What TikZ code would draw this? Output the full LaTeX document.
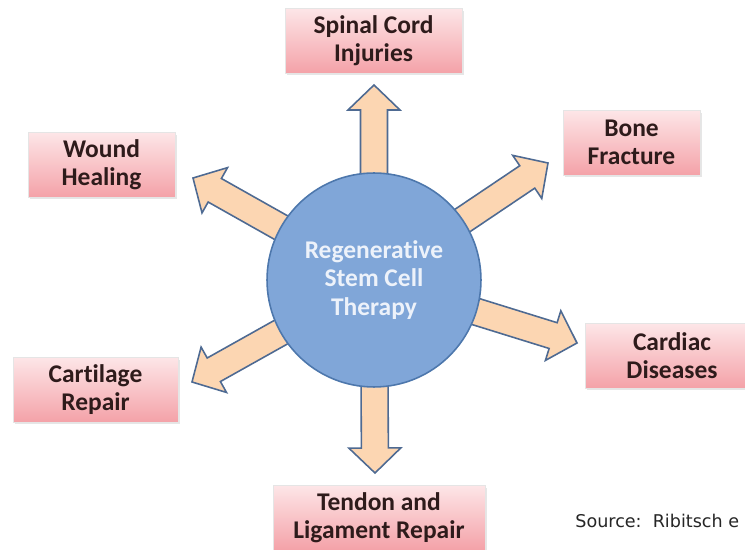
\documentclass[tikz,border=0pt]{standalone}
\usepackage{fontspec}
\setmainfont{Carlito}[Ligatures=NoCommon]
\newfontfamily\srcfont{DejaVu Sans}
\usetikzlibrary{calc,backgrounds,shadows}

\definecolor{boxtop}{HTML}{FDE6E8}
\definecolor{boxbot}{HTML}{F4A2A8}
\definecolor{boxtext}{HTML}{2E1B1B}
\definecolor{cellfill}{HTML}{80A6D8}
\definecolor{cellline}{HTML}{4D77AC}
\definecolor{cellfont}{HTML}{EDF2FA}
\definecolor{arrowfill}{HTML}{FCD6B2}
\definecolor{arrowline}{HTML}{4E6A92}

\tikzset{
  usecase/.style={top color=boxtop, bottom color=boxbot, draw=black!10,
    minimum height=1.3cm, align=center, text=boxtext,
    font=\bfseries\fontsize{14.5}{16}\selectfont,
    drop shadow={opacity=0.2, shadow xshift=0.04cm, shadow yshift=-0.05cm}},
  cell/.style={circle, fill=cellfill, draw=cellline, line width=0.9pt,
    minimum size=4.28cm, align=center, text=cellfont,
    font=\bfseries\fontsize{14.5}{16}\selectfont},
  arrowbody/.style={fill=arrowfill, draw=arrowline, line width=0.9pt}
}

\begin{document}
\begin{tikzpicture}[x=0.02cm, y=-0.02cm]
    \useasboundingbox (0,0) rectangle (745,550);
    \clip (0,0) rectangle (745,550);

    % Centre
    \node[cell] (c) at (374,280) {Regenerative\\Stem Cell\\Therapy};

    % Applications
    \node[usecase, minimum width=3.54cm] (spinal) at (373.5,40.5) {Spinal Cord\\Injuries};
    \node[usecase, minimum width=2.74cm] (bone) at (631.5,142.5) {Bone\\Fracture};
    \node[usecase, minimum width=3.48cm] (cardiac) at (672,355.5) {Cardiac\\Diseases};
    \node[usecase, minimum width=4.24cm] (tendon) at (379,517.5) {Tendon and\\Ligament Repair};
    \node[usecase, minimum width=3.30cm] (cartilage) at (95.5,389.5) {Cartilage\\Repair};
    \node[usecase, minimum width=2.94cm] (wound) at (101.5,164.5) {Wound\\Healing};

    % Arrow tips
    \coordinate (tipS) at (374,85);
    \coordinate (tipB) at (548,163);
    \coordinate (tipC) at (577,343);
    \coordinate (tipT) at (375,473);
    \coordinate (tipR) at (192,382);
    \coordinate (tipW) at (193,178);

    % Block arrows
    \begin{scope}[on background layer]
        \foreach \tip in {tipS, tipB, tipC, tipT, tipR, tipW} {
            \coordinate (h) at ($(\tip)!0.5cm!(c.center)$);
            \draw[arrowbody] ($(c.center)!0.27cm!90:(\tip)$) -- ($(h)!0.27cm!90:(\tip)$)
                -- ($(h)!0.52cm!90:(\tip)$) -- (\tip) -- ($(h)!0.52cm!-90:(\tip)$)
                -- ($(h)!0.27cm!-90:(\tip)$) -- ($(c.center)!0.27cm!-90:(\tip)$) -- cycle;
        }
    \end{scope}

    % Source
    \node[anchor=base west, inner sep=0pt, text=black!85,
          font=\srcfont\fontsize{10}{12}\selectfont] (src) at (575,528) {Source:\ \ Ribitsch e};
\end{tikzpicture}
\end{document}
